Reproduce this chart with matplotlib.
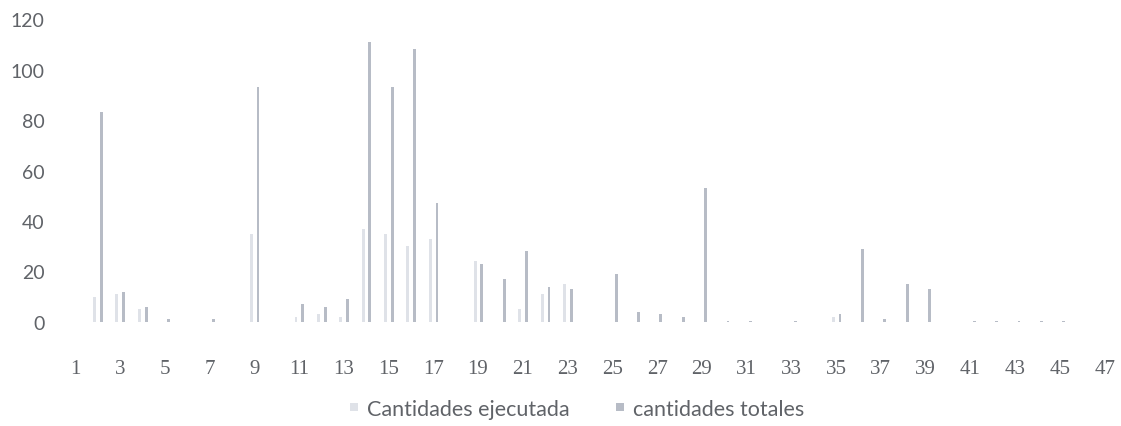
import numpy as np
import matplotlib
matplotlib.use("Agg")
import matplotlib.pyplot as plt
from matplotlib.lines import Line2D

# categories 1..47, two series per category
categorias = list(range(1, 48))
ejecutada = [0, 10, 11, 5, 0, 0, 0, 0, 35, 0,
             2, 3, 2, 37, 35, 30, 33, 0, 24, 0,
             5, 11, 15, 0, 0, 0, 0, 0, 0, 0,
             0, 0, 0, 0, 2, 0, 0, 0, 0, 0,
             0, 0, 0, 0, 0, 0, 0]
totales = [0, 83, 12, 6, 1, 0, 1, 0, 93, 0,
           7, 6, 9, 111, 93, 108, 47, 0, 23, 17,
           28, 14, 13, 0, 19, 4, 3, 2, 53, 0.5,
           0.5, 0, 0.5, 0, 3, 29, 1, 15, 13, 0,
           0.5, 0.5, 0.5, 0.5, 0.5, 0, 0]
xticks = list(range(1, 48, 2))
yticks = [0, 20, 40, 60, 80, 100, 120]

col_ej = "#dfe2e8"
col_tot = "#b7bcc6"
txt = "#606368"

fig = plt.figure(figsize=(11.21, 4.27), dpi=100)
ax = fig.add_axes([0.057, 0.2436, 0.9385, 0.7094])

x = np.array(categorias)
w = 0.13
ax.bar(x - 0.13, ejecutada, width=w, color=col_ej, linewidth=0)
ax.bar(x + 0.17, totales, width=w, color=col_tot, linewidth=0)

ax.set_xlim(0.5, 47.5)
ax.set_ylim(0, 120)
ax.set_xticks(xticks)
ax.set_xticklabels([str(v) for v in xticks], family="Liberation Serif",
                   fontsize=15, color=txt)
ax.set_yticks(yticks)
ax.set_yticklabels([str(v) for v in yticks], family="Lato",
                   fontsize=14, color=txt)
ax.tick_params(axis="x", length=0, pad=27)
ax.tick_params(axis="y", length=0, pad=14)
for s in ax.spines.values():
    s.set_visible(False)

handles = [Line2D([], [], ls="none", marker="s", markersize=6,
                  markerfacecolor=col_ej, markeredgewidth=0),
           Line2D([], [], ls="none", marker="s", markersize=6,
                  markerfacecolor=col_tot, markeredgewidth=0)]
fig.legend(handles, ["Cantidades ejecutada", "cantidades totales"],
           loc="center", bbox_to_anchor=(0.514, 0.04), ncol=2, frameon=False,
           handlelength=0.5, handletextpad=0.35,
           columnspacing=2.1, prop={"family": "Lato", "size": 15.5},
           labelcolor=txt)

fig.savefig("out.png", dpi=100)
